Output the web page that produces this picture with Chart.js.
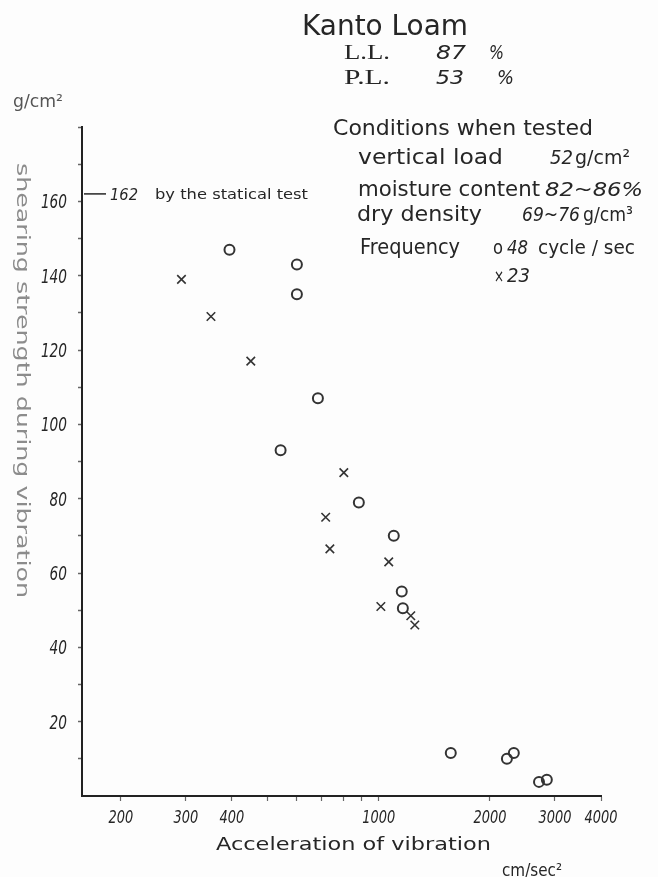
<!DOCTYPE html>
<html>
<head>
<meta charset="utf-8">
<script src="https://cdn.jsdelivr.net/npm/chart.js@4"></script>
<style>
html,body{margin:0;padding:0;background:#fdfdfd;}
canvas{display:block;}
</style>
</head>
<body>
<canvas id="c" width="658" height="877"></canvas>
<script>
// ---- data ----
const circleX = [394, 600, 600, 684, 542, 883, 1098, 1154, 1162, 1567, 2224, 2322, 2717, 2853];
const circleY = [147, 143, 135, 107, 93, 79, 70, 55, 50.5, 11.6, 10, 11.6, 3.8, 4.4];
const crossX = [292, 351, 450, 804, 718, 737, 1064, 1013, 1221, 1252];
const crossY = [139, 129, 117, 87, 75, 66.5, 63, 51, 48.5, 46];
const xTickValues = [200, 300, 400, 500, 600, 700, 800, 900, 1000, 2000, 3000, 4000];
const xTickLabels = ['200', '300', '400', '', '', '', '', '', '1000', '2000', '3000', '4000'];
const yTickValues = [10, 20, 30, 40, 50, 60, 70, 80, 90, 100, 110, 120, 130, 140, 150, 160, 170, 180];
const yTickLabels = ['', '20', '', '40', '', '60', '', '80', '', '100', '', '120', '', '140', '', '160', '', ''];
const staticValue = 162;

const INK = '#262626';
const NUMFONT = "'DejaVu Sans', 'Liberation Sans', sans-serif";
const SANS = "'DejaVu Sans', 'Liberation Sans', sans-serif";
const SERIF = "'Liberation Serif', 'DejaVu Serif', serif";

function txt(ctx, s, x, y, o) {
  ctx.save();
  ctx.font = o.font;
  const m = ctx.measureText(s).width;
  const sx = o.w ? o.w / m : (o.sx || 1);
  const al = o.align || 'left';
  const x0 = al === 'left' ? x : al === 'right' ? x - m * sx : x - m * sx / 2;
  ctx.translate(x0, y);
  ctx.scale(sx, 1);
  ctx.fillStyle = o.color || INK;
  ctx.textBaseline = 'alphabetic';
  ctx.fillText(s, 0, 0);
  ctx.restore();
}

const textPlugin = {
  id: 'texts',
  afterDraw(chart) {
    const ctx = chart.ctx;
    const xs = chart.scales.x, ys = chart.scales.y;
    // x tick labels
    xs.ticks.forEach(t => {
      const i = xTickValues.indexOf(t.value);
      const lab = i >= 0 ? xTickLabels[i] : '';
      if (!lab) return;
      txt(ctx, lab, xs.getPixelForValue(t.value), 823, {font: 'italic 18px ' + NUMFONT, sx: 0.72, align: 'center'});
    });
    // y tick labels
    ys.ticks.forEach(t => {
      const i = yTickValues.indexOf(t.value);
      const lab = i >= 0 ? yTickLabels[i] : '';
      if (!lab) return;
      txt(ctx, lab, 67, ys.getPixelForValue(t.value) + 7, {font: 'italic 19px ' + NUMFONT, sx: 0.72, align: 'right'});
    });
    // statical test mark
    const yS = ys.getPixelForValue(staticValue);
    ctx.save();
    ctx.strokeStyle = INK; ctx.lineWidth = 1.5;
    ctx.beginPath(); ctx.moveTo(84, yS); ctx.lineTo(106, yS); ctx.stroke();
    ctx.restore();
    txt(ctx, String(staticValue), 110, yS + 6, {font: 'italic 16px ' + NUMFONT, w: 28});
    txt(ctx, 'by the statical test', 155, yS + 5, {font: '14px ' + SANS, w: 153});

    // y axis title (rotated)
    ctx.save();
    ctx.translate(17, 163);
    ctx.rotate(Math.PI / 2);
    txt(ctx, 'shearing strength during vibration', 0, 0, {font: '18px ' + SANS, w: 435, color: '#8c8c8c'});
    ctx.restore();
    txt(ctx, 'g/cm²', 13, 107, {font: '17px ' + SANS, w: 50, color: '#555'});

    // x axis title
    txt(ctx, 'Acceleration of vibration', 216, 850, {font: '18px ' + SANS, w: 275});
    txt(ctx, 'cm/sec²', 502, 876, {font: '17px ' + SANS, w: 60});

    // header
    txt(ctx, 'Kanto Loam', 302, 35, {font: '28px ' + SANS, w: 166});
    txt(ctx, 'L.L.', 344, 59, {font: '22px ' + SERIF, w: 46});
    txt(ctx, '87', 436, 59, {font: 'italic 20px ' + NUMFONT, w: 30, sx: 0});
    txt(ctx, '%', 489, 59, {font: 'italic 20px ' + NUMFONT, w: 15});
    txt(ctx, 'P.L.', 344, 84, {font: '22px ' + SERIF, w: 46});
    txt(ctx, '53', 436, 84, {font: 'italic 20px ' + NUMFONT, w: 28});
    txt(ctx, '%', 497, 84, {font: 'italic 20px ' + NUMFONT, w: 17});

    // conditions block
    txt(ctx, 'Conditions when tested', 333, 135, {font: '21px ' + SANS, w: 260});
    txt(ctx, 'vertical load', 358, 164, {font: '21px ' + SANS, w: 145});
    txt(ctx, '52', 550, 164, {font: 'italic 20px ' + NUMFONT, w: 23});
    txt(ctx, 'g/cm²', 575, 164, {font: '20px ' + SANS, w: 55});
    txt(ctx, 'moisture content', 358, 196, {font: '21px ' + SANS, w: 182});
    txt(ctx, '82~86%', 545, 196, {font: 'italic 20px ' + NUMFONT, w: 98});
    txt(ctx, 'dry density', 357, 221, {font: '21px ' + SANS, w: 125});
    txt(ctx, '69~76', 522, 221, {font: 'italic 20px ' + NUMFONT, w: 58});
    txt(ctx, 'g/cm³', 583, 221, {font: '20px ' + SANS, w: 50});
    txt(ctx, 'Frequency', 360, 254, {font: '21px ' + SANS, w: 100});
    txt(ctx, 'o', 493, 254, {font: '20px ' + SANS, w: 10});
    txt(ctx, '48', 507, 254, {font: 'italic 20px ' + NUMFONT, w: 21});
    txt(ctx, 'cycle / sec', 538, 254, {font: '20px ' + SANS, w: 97});
    txt(ctx, '×', 494, 282, {font: '18px ' + SANS, w: 10});
    txt(ctx, '23', 507, 282, {font: 'italic 20px ' + NUMFONT, w: 23});
  }
};

const circles = circleX.map((x, i) => ({x: x, y: circleY[i]}));
const crosses = crossX.map((x, i) => ({x: x, y: crossY[i]}));

new Chart(document.getElementById('c'), {
  type: 'scatter',
  data: {
    datasets: [
      {label: '48 cycle/sec', data: circles, pointStyle: 'circle', pointRadius: 5, borderWidth: 2,
       borderColor: '#333', backgroundColor: 'rgba(0,0,0,0)'},
      {label: '23 cycle/sec', data: crosses, pointStyle: 'crossRot', pointRadius: 6, borderWidth: 1.6,
       borderColor: '#333', backgroundColor: 'rgba(0,0,0,0)'}
    ]
  },
  options: {
    responsive: false,
    animation: false,
    devicePixelRatio: 1,
    layout: {padding: {top: 127, right: 57, left: 0, bottom: 0}},
    plugins: {legend: {display: false}, tooltip: {enabled: false}},
    scales: {
      x: {
        type: 'logarithmic', min: 157, max: 4000,
        afterFit(s) { s.height = 81; },
        afterBuildTicks(s) { s.ticks = xTickValues.map(v => ({value: v})); },
        ticks: {display: false, autoSkip: false},
        grid: {drawOnChartArea: false, drawTicks: true, tickLength: 5, tickWidth: 1.2, tickColor: '#666'},
        border: {display: true, color: '#222', width: 2}
      },
      y: {
        min: 0, max: 180,
        afterFit(s) { s.width = 82; },
        afterBuildTicks(s) { s.ticks = yTickValues.map(v => ({value: v})); },
        ticks: {display: false, autoSkip: false},
        grid: {drawOnChartArea: false, drawTicks: true, tickLength: 4, tickWidth: 1.5, tickColor: '#666'},
        border: {display: true, color: '#222', width: 2}
      }
    }
  },
  plugins: [textPlugin]
});
</script>
</body>
</html>
